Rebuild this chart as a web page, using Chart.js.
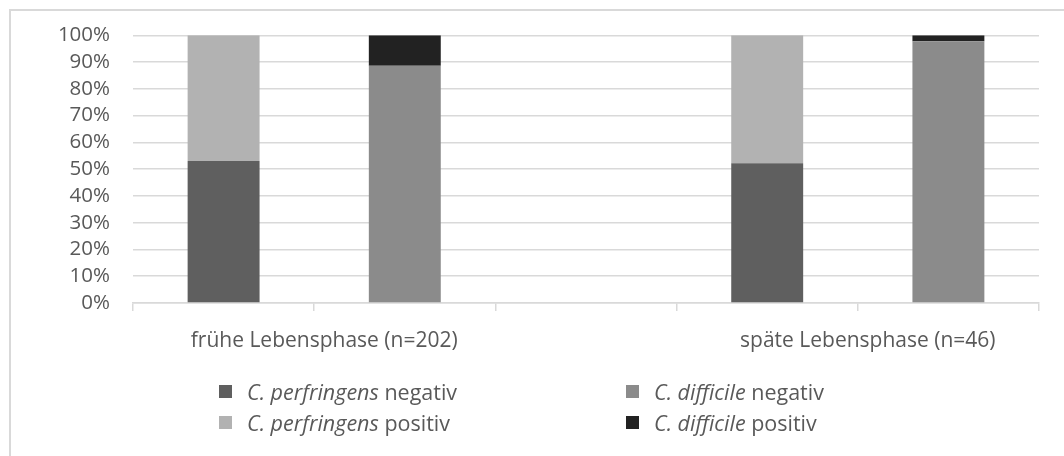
<!DOCTYPE html>
<html lang="de">
<head>
<meta charset="utf-8">
<script src="https://cdn.jsdelivr.net/npm/chart.js@4.4.1/dist/chart.umd.min.js"></script>
<style>
  html, body { margin: 0; padding: 0; background: #fff; overflow: hidden; }
  #wrap { position: relative; width: 1064px; height: 456px; overflow: hidden; }
  #frame { position: absolute; left: 9px; top: 9px; width: 1080px; height: 470px;
           border: 2px solid #d9d9d9; box-sizing: border-box; pointer-events: none; }
  #chart { position: absolute; left: 0; top: 0; }
  #legend { position: absolute; left: 0; top: 0; width: 1064px; height: 456px;
            font-family: 'Open Sans', sans-serif; font-size: 21.5px; color: #595959; }
  .item { position: absolute; white-space: nowrap; line-height: 24px; height: 24px; }
  .sw { position: absolute; left: 0; top: 5px; width: 13px; height: 13px; }
  .tx { position: absolute; left: 28px; top: 0; }
</style>
</head>
<body>
<div id="wrap">
  <canvas id="chart" width="1064" height="456"></canvas>
  <div id="legend"></div>
  <div id="frame"></div>
</div>
<script>
// Bar slots: C. perfringens / C. difficile for each life phase, with an empty gap slot
const categories = ['früh · C. perfringens', 'früh · C. difficile', '', 'spät · C. perfringens', 'spät · C. difficile'];

// Group labels sit on the slot boundaries (6 boundaries for 5 slots)
const groupLabels = ['', 'frühe Lebensphase (n=202)', '', '', 'späte Lebensphase (n=46)', ''];

// Shares in percent
const perfNeg = [53.0, null, null, 52.2, null];
const perfPos = [47.0, null, null, 47.8, null];
const diffNeg = [null, 88.6, null, null, 97.8];
const diffPos = [null, 11.4, null, null, 2.2];

const yTicks = [0, 10, 20, 30, 40, 50, 60, 70, 80, 90, 100];

// Legend entries: species name in italics, status upright
const seriesSpecies = ['C. perfringens', 'C. difficile', 'C. perfringens', 'C. difficile'];
const seriesStatus = ['negativ', 'negativ', 'positiv', 'positiv'];
const seriesColors = ['#5f5f5f', '#8b8b8b', '#b2b2b2', '#222222'];

const FONT = "'Open Sans', sans-serif";
const TXT = '#595959';
const GRID = '#d9d9d9';

const seriesData = [perfNeg, diffNeg, perfPos, diffPos];

const datasets = seriesData.map((d, i) => ({
  label: seriesSpecies[i] + ' ' + seriesStatus[i],
  data: d,
  backgroundColor: seriesColors[i],
  borderWidth: 0,
  barPercentage: 0.397,
  categoryPercentage: 1.0,
  skipNull: true
}));

new Chart(document.getElementById('chart'), {
  type: 'bar',
  data: { labels: categories, datasets },
  options: {
    responsive: false,
    animation: false,
    devicePixelRatio: 1,
    layout: { padding: { top: 35, right: 25, bottom: 0, left: 0 } },
    plugins: { legend: { display: false }, tooltip: { enabled: false } },
    scales: {
      x: {
        display: false,
        stacked: true,
        offset: true
      },
      xLab: {
        type: 'category',
        position: 'bottom',
        labels: groupLabels,
        offset: false,
        afterFit: s => { s.height = 153; },
        border: { display: true, color: GRID, width: 1.5 },
        grid: { offset: false, drawOnChartArea: false, drawTicks: true, tickLength: 8, color: GRID, lineWidth: 1.5 },
        ticks: {
          autoSkip: false, maxRotation: 0, minRotation: 0, padding: 17, labelOffset: 10,
          color: TXT, font: { family: FONT, size: 21 }
        }
      },
      y: {
        stacked: true,
        min: 0,
        max: 100,
        afterFit: s => { s.width = 133; },
        afterBuildTicks: s => { s.ticks = yTicks.map(v => ({ value: v })); },
        border: { display: false },
        grid: { color: GRID, lineWidth: 1.5, drawTicks: false },
        ticks: {
          autoSkip: false,
          padding: 23,
          color: TXT,
          font: { family: FONT, size: 20.5 },
          callback: v => v + '%'
        }
      }
    }
  }
});

// Legend: two columns, filled row by row
const legendPos = [
  { x: 219, y: 380 }, { x: 626, y: 380 },
  { x: 219, y: 411 }, { x: 626, y: 411 }
];
const legend = document.getElementById('legend');
seriesSpecies.forEach((sp, i) => {
  const it = document.createElement('div');
  it.className = 'item';
  it.style.left = legendPos[i].x + 'px';
  it.style.top = legendPos[i].y + 'px';
  const sw = document.createElement('span');
  sw.className = 'sw';
  sw.style.background = seriesColors[i];
  const tx = document.createElement('span');
  tx.className = 'tx';
  const em = document.createElement('i');
  em.textContent = sp;
  tx.appendChild(em);
  tx.appendChild(document.createTextNode(' ' + seriesStatus[i]));
  it.appendChild(sw);
  it.appendChild(tx);
  legend.appendChild(it);
});
</script>
</body>
</html>
